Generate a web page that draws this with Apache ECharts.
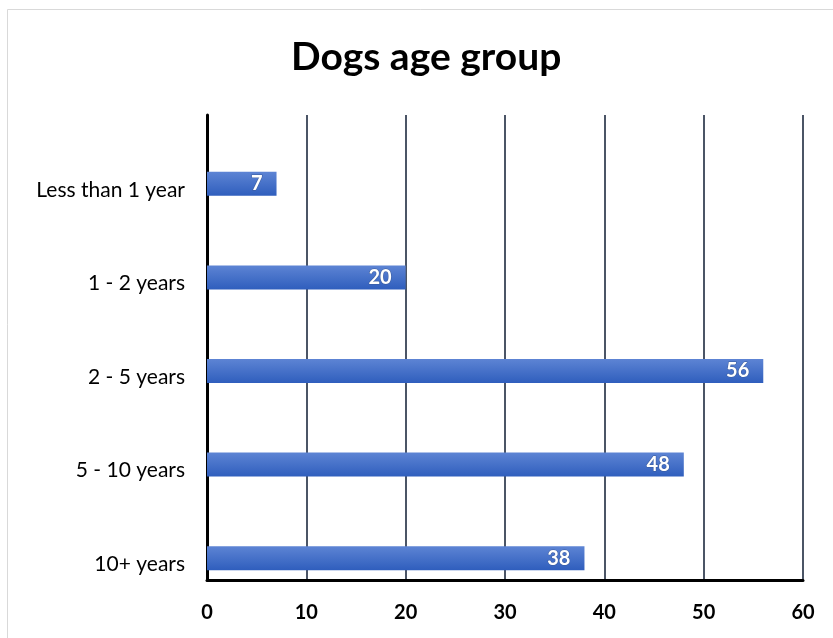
<!DOCTYPE html>
<html>
<head>
<meta charset="utf-8">
<title>Dogs age group</title>
<script src="https://cdn.jsdelivr.net/npm/echarts@6/dist/echarts.min.js"></script>
<style>
  html, body { margin: 0; padding: 0; background: #ffffff; }
  #chart { width: 833px; height: 638px; }
</style>
</head>
<body>
<div id="chart"></div>
<script>
// Age groups, listed top to bottom
const categories = ['Less than 1 year', '1 - 2 years', '2 - 5 years', '5 - 10 years', '10+ years'];
// Number of dogs per age group
const counts = [7, 20, 56, 48, 38];
// Value axis ticks
const xMin = 0;
const xMax = 60;
const xStep = 10;

const font = 'Lato, "Open Sans", sans-serif';

const chart = echarts.init(document.getElementById('chart'), null, { renderer: 'canvas' });

chart.setOption({
  animation: false,
  backgroundColor: '#ffffff',
  title: {
    text: 'Dogs age group',
    left: 286,
    top: 33,
    textStyle: { fontFamily: font, fontSize: 39, fontWeight: 'bold', color: '#000000' }
  },
  graphic: [{
    type: 'rect',
    shape: { x: 7.5, y: 9.5, width: 840, height: 640 },
    style: { fill: 'none', stroke: '#d9d9d9', lineWidth: 1 },
    z: -1
  }],
  grid: [
    // frame: axes and gridlines
    { left: 207, right: 30, top: 115, bottom: 58 },
    // bars and category labels
    { left: 207, right: 30, top: 137, bottom: 33 }
  ],
  xAxis: [
    {
      gridIndex: 0,
      type: 'value',
      min: xMin, max: xMax, interval: xStep,
      axisLine: { show: true, onZero: false, lineStyle: { color: '#000000', width: 3 } },
      axisTick: { show: false },
      splitLine: { show: true, lineStyle: { color: '#4b5566', width: 2 } },
      axisLabel: { margin: 23, fontFamily: font, fontSize: 20, fontWeight: 'bold', color: '#000000' }
    },
    {
      gridIndex: 1,
      type: 'value',
      min: xMin, max: xMax,
      show: false
    }
  ],
  yAxis: [
    {
      gridIndex: 0,
      type: 'category',
      data: categories,
      inverse: true,
      axisLine: { show: true, lineStyle: { color: '#000000', width: 3 } },
      axisTick: { show: false },
      axisLabel: { show: false },
      splitLine: { show: false }
    },
    {
      gridIndex: 1,
      type: 'category',
      data: categories,
      inverse: true,
      axisLine: { show: false },
      axisTick: { show: false },
      splitLine: { show: false },
      axisLabel: {
        margin: 22,
        formatter: function (v) { return '{c|' + v + '}'; },
        rich: {
          c: {
            padding: [12, 0, 0, 0],
            fontFamily: font,
            fontSize: 21,
            color: '#000000'
          }
        }
      }
    }
  ],
  series: [{
    type: 'bar',
    xAxisIndex: 1,
    yAxisIndex: 1,
    data: counts,
    barWidth: 24,
    itemStyle: {
      color: new echarts.graphic.LinearGradient(0, 0, 0, 1, [
        { offset: 0, color: '#5d84d4' },
        { offset: 1, color: '#2f5ebd' }
      ])
    },
    label: {
      show: true,
      position: 'insideRight',
      distance: 14,
      fontFamily: font,
      fontSize: 20,
      fontWeight: 'bold',
      color: '#ffffff',
      textBorderColor: '#3a5a9a',
      textBorderWidth: 1
    }
  }]
});
</script>
</body>
</html>
